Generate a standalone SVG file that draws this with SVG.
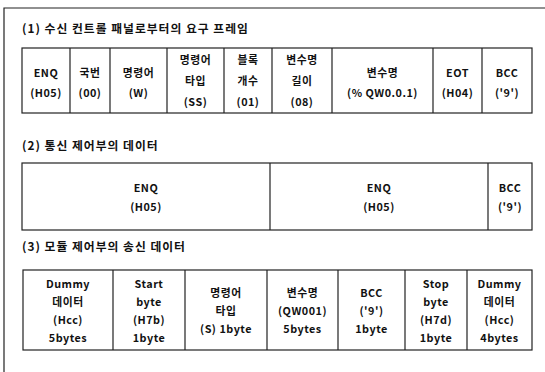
<svg xmlns="http://www.w3.org/2000/svg" width="545" height="372" viewBox="0 0 545 372">
<style>
.t{font-family:"Noto Sans CJK KR","Noto Sans",sans-serif;font-size:10.8px;font-weight:700;fill:#111;text-anchor:middle;dominant-baseline:central;letter-spacing:0.5px}
.h{font-family:"Noto Sans CJK KR","Noto Sans",sans-serif;font-size:11.8px;font-weight:700;fill:#111;letter-spacing:1px}
.b{fill:#fff;stroke:#222;stroke-width:1.2}
.l{stroke:#222;stroke-width:1.2;fill:none}
</style>
<rect width="545" height="372" fill="#fff"/>
<g id="frame">
<path class="l" d="M4,372 V8 H545" stroke-width="1.6"/>
</g>
<g id="section1">
<text class="h" x="22" y="33">(1) 수신 컨트롤 패널로부터의 요구 프레임</text>
<rect class="b" x="22" y="48" width="510" height="65"/>
<path class="l" d="M70,48V113M110,48V113M167,48V113M224,48V113M272,48V113M332,48V113M433,48V113M482,48V113"/>
<text class="t" x="46" y="72">ENQ</text><text class="t" x="46" y="92">(H05)</text>
<text class="t" x="90" y="72">국번</text><text class="t" x="90" y="92">(00)</text>
<text class="t" x="138.5" y="72">명령어</text><text class="t" x="138.5" y="92">(W)</text>
<text class="t" x="195.5" y="59">명령어</text><text class="t" x="195.5" y="80">타입</text><text class="t" x="195.5" y="101">(SS)</text>
<text class="t" x="248" y="59">블록</text><text class="t" x="248" y="80">개수</text><text class="t" x="248" y="101">(01)</text>
<text class="t" x="302" y="59">변수명</text><text class="t" x="302" y="80">길이</text><text class="t" x="302" y="101">(08)</text>
<text class="t" x="382.5" y="72">변수명</text><text class="t" x="382.5" y="92">(% QW0.0.1)</text>
<text class="t" x="457.5" y="72">EOT</text><text class="t" x="457.5" y="92">(H04)</text>
<text class="t" x="507" y="72">BCC</text><text class="t" x="507" y="92">('9')</text>
</g>
<g id="section2">
<text class="h" x="22" y="150">(2) 통신 제어부의 데이터</text>
<rect class="b" x="22" y="163" width="510" height="67"/>
<path class="l" d="M270,163V230M488,163V230"/>
<text class="t" x="146" y="187">ENQ</text><text class="t" x="146" y="206">(H05)</text>
<text class="t" x="379" y="187">ENQ</text><text class="t" x="379" y="206">(H05)</text>
<text class="t" x="510" y="187">BCC</text><text class="t" x="510" y="206">('9')</text>
</g>
<g id="section3">
<text class="h" x="22" y="251">(3) 모듈 제어부의 송신 데이터</text>
<rect class="b" x="23" y="270" width="509" height="80"/>
<path class="l" d="M113,270V350M185,270V350M267,270V350M338,270V350M405,270V350M467,270V350"/>
<text class="t" x="68" y="283">Dummy</text><text class="t" x="68" y="301">데이터</text><text class="t" x="68" y="319">(Hcc)</text><text class="t" x="68" y="337">5bytes</text>
<text class="t" x="149" y="283">Start</text><text class="t" x="149" y="301">byte</text><text class="t" x="149" y="319">(H7b)</text><text class="t" x="149" y="337">1byte</text>
<text class="t" x="226" y="292">명령어</text><text class="t" x="226" y="310">타입</text><text class="t" x="226" y="328">(S) 1byte</text>
<text class="t" x="302.5" y="292">변수명</text><text class="t" x="302.5" y="310">(QW001)</text><text class="t" x="302.5" y="328">5bytes</text>
<text class="t" x="371.5" y="292">BCC</text><text class="t" x="371.5" y="310">('9')</text><text class="t" x="371.5" y="328">1byte</text>
<text class="t" x="436" y="283">Stop</text><text class="t" x="436" y="301">byte</text><text class="t" x="436" y="319">(H7d)</text><text class="t" x="436" y="337">1byte</text>
<text class="t" x="499.5" y="283">Dummy</text><text class="t" x="499.5" y="301">데이터</text><text class="t" x="499.5" y="319">(Hcc)</text><text class="t" x="499.5" y="337">4bytes</text>
</g>
</svg>
